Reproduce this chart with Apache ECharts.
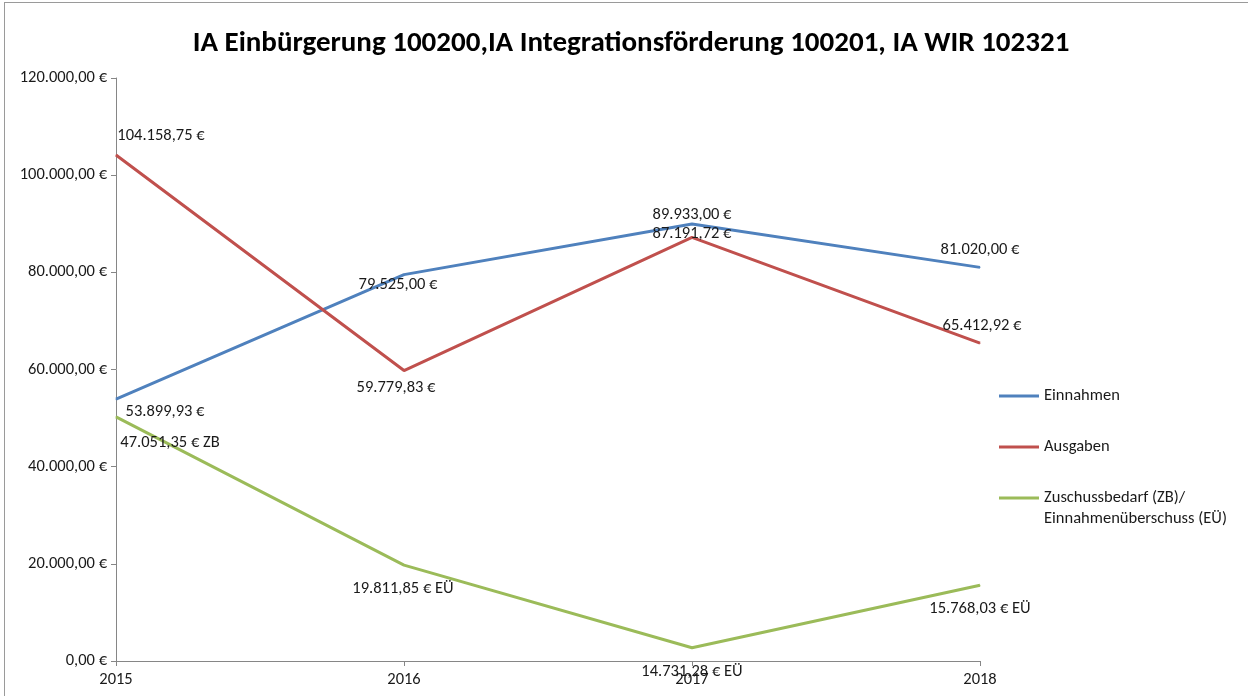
<!DOCTYPE html>
<html>
<head>
<meta charset="utf-8">
<script src="https://cdn.jsdelivr.net/npm/echarts@6/dist/echarts.min.js"></script>
<style>
  html, body { margin: 0; padding: 0; background: #fff; overflow: hidden; }
  #frame {
    position: absolute; left: 4px; top: 2px;
    width: 1260px; height: 710px;
    border: 1px solid #9a9a9a;
  }
  #chart { position: absolute; left: -5px; top: -3px; width: 1248px; height: 696px; }
</style>
</head>
<body>
<div id="frame"><div id="chart"></div></div>
<script>
// Werte
const jahre = ['2015', '2016', '2017', '2018']
const einnahmen = [53899.93, 79525.00, 89933.00, 81020.00]
const ausgaben = [104158.75, 59779.83, 87191.72, 65412.92]
// Linie liegt beim Betrag der Differenz, Beschriftung ist eigener Text
const zuschuss = [50259, 19745, 2741, 15607]
const zuschussText = ['47.051,35 € ZB', '19.811,85 € EÜ', '14.731,28 € EÜ', '15.768,03 € EÜ']

const fontFam = 'Carlito, "Liberation Sans Narrow", "Liberation Sans", sans-serif'
const fs = 16.5

function euro(v) {
  let s = Math.abs(v).toFixed(2).split('.')
  let intPart = s[0].replace(/\B(?=(\d{3})+(?!\d))/g, '.')
  return (v < 0 ? '-' : '') + intPart + ',' + s[1] + ' €'
}

// Label-Lagen je Punkt [position, dx, dy]
const posEin = [['bottom', 49, -4], ['bottom', -6, -7], ['top', 0, 8], ['top', 0, -1]]
const posAus = [['top', 45, -2], ['bottom', -8, 0], ['top', 0, 13], ['top', 2, 0]]
const posZus = [['bottom', 54, 9], ['bottom', -1, 7], ['bottom', 0, 7], ['bottom', 0, 7]]

function build(values, pos, texts) {
  return values.map((v, i) => ({
    value: v,
    label: {
      position: pos[i][0],
      offset: [pos[i][1], pos[i][2]],
      formatter: texts ? texts[i] : euro(v)
    }
  }))
}

const chart = echarts.init(document.getElementById('chart'))
const labelStyle = { show: true, color: '#1a1a1a', fontSize: fs, fontFamily: fontFam, distance: 8 }

function lineSeries(name, color, data) {
  return {
    name: name, type: 'line', symbol: 'circle', symbolSize: 1, showSymbol: true,
    lineStyle: { width: 3, color: color }, itemStyle: { color: color },
    label: labelStyle,
    data: data
  }
}

const zbName = 'Zuschussbedarf (ZB)/ Einnahmenüberschuss (EÜ)'

chart.setOption({
  animation: false,
  title: {
    text: 'IA Einbürgerung 100200,IA Integrationsförderung 100201, IA WIR 102321',
    left: 626, top: 24, textAlign: 'center',
    textStyle: { fontSize: 29, fontWeight: 'bold', color: '#000', fontFamily: fontFam }
  },
  legend: {
    orient: 'vertical',
    left: 999, top: 386, padding: 0,
    itemWidth: 40, itemHeight: 3, itemGap: 31,
    icon: 'rect',
    textStyle: { fontSize: fs, color: '#1a1a1a', fontFamily: fontFam, lineHeight: 20 },
    // zweite Zeile des dritten Eintrags steht unter der ersten (siehe graphic)
    formatter: function (name) {
      return name.split('/ ')[0] + (name.indexOf('/ ') >= 0 ? '/' : '')
    },
    data: ['Einnahmen', 'Ausgaben', zbName]
  },
  graphic: [{
    type: 'text', left: 1044, top: 510,
    style: { text: 'Einnahmenüberschuss (EÜ)', fill: '#1a1a1a', font: fs + 'px ' + fontFam }
  }],
  grid: { left: 116, right: 268, top: 78, bottom: 35 },
  xAxis: {
    type: 'category',
    boundaryGap: false,
    data: jahre,
    axisLine: { lineStyle: { color: '#868686' } },
    axisTick: { show: true, length: 5, lineStyle: { color: '#868686' } },
    axisLabel: { color: '#1a1a1a', fontSize: fs, fontFamily: fontFam, margin: 10 }
  },
  yAxis: {
    type: 'value',
    min: 0, max: 120000, interval: 20000,
    axisLine: { show: true, lineStyle: { color: '#868686' } },
    axisTick: { show: true, length: 5, lineStyle: { color: '#868686' } },
    splitLine: { show: false },
    axisLabel: {
      color: '#1a1a1a', fontSize: fs, fontFamily: fontFam, margin: 9,
      formatter: v => euro(v)
    }
  },
  series: [
    lineSeries('Einnahmen', '#4F81BD', build(einnahmen, posEin)),
    lineSeries('Ausgaben', '#C0504D', build(ausgaben, posAus)),
    lineSeries(zbName, '#9BBB59', build(zuschuss, posZus, zuschussText))
  ]
})
</script>
</body>
</html>
